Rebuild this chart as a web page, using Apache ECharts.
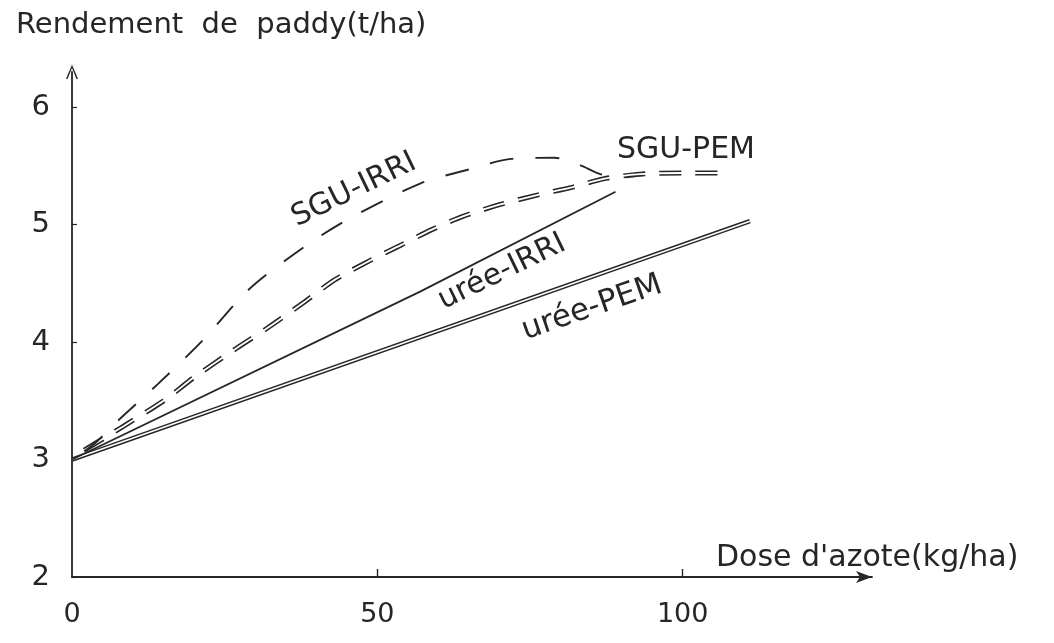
<!DOCTYPE html>
<html><head><meta charset="utf-8">
<script src="https://cdn.jsdelivr.net/npm/echarts@6/dist/echarts.min.js"></script>
<style>html,body{margin:0;padding:0;background:#fff}#c{width:1054px;height:643px}</style>
</head><body><div id="c"></div>
<script>
// ---- data ----
const ureePEM_x = [0, 111];
const ureePEM_y = [3.0, 5.03];
const ureeIRRI_x = [0, 57, 89];
const ureeIRRI_y = [3.0, 4.43, 5.28];
const sguPEM_x = [2, 8, 15, 20, 27, 32, 38, 43, 49, 54, 59, 64, 70, 76, 82, 87, 93, 100, 106];
const sguPEM_y = [3.08, 3.27, 3.5, 3.7, 3.95, 4.12, 4.34, 4.53, 4.7, 4.83, 4.96, 5.07, 5.17, 5.25, 5.32, 5.39, 5.43, 5.44, 5.44];
const sguIRRI_x = [2, 4, 7.5, 14, 21.5, 29, 38, 45, 57, 65, 72, 79, 83, 86.5, 89];
const sguIRRI_y = [3.07, 3.15, 3.33, 3.64, 4.02, 4.45, 4.81, 5.04, 5.35, 5.47, 5.56, 5.57, 5.51, 5.43, 5.41];
const xTicks = [0, 50, 100];
const yTicks = [2, 3, 4, 5, 6];
const seriesNames = ['SGU-IRRI', 'SGU-PEM', 'urée-IRRI', 'urée-PEM'];
const yTitle = 'Rendement  de  paddy(t/ha)';
const xTitle = "Dose d'azote(kg/ha)";

const zip = (xs, ys) => xs.map((x, i) => [x, ys[i]]);
const INK = '#262626';
const FONT = '"DejaVu Sans", sans-serif';

const chart = echarts.init(document.getElementById('c'), null, {renderer: 'canvas'});
const chevron = 'path://M0,14 L6,0 L12,14 L10.6,14.6 L6,3.2 L1.4,14.6 Z';

const option = {
  backgroundColor: '#fff',
  animation: false,
  title: {
    text: yTitle, left: 11, top: 6,
    textStyle: {fontFamily: FONT, fontSize: 29, fontWeight: 'normal', color: INK}
  },
  grid: {left: 72, right: 182, top: 72, bottom: 66, containLabel: false},
  xAxis: {
    type: 'value', min: 0, max: 131, interval: 50,
    axisLine: {show: true, lineStyle: {color: INK, width: 1.8}, symbol: ['none', 'arrow'], symbolSize: [9, 16]},
    axisTick: {show: true, inside: true, length: 8, customValues: [50, 100], lineStyle: {color: INK, width: 1.4}},
    axisLabel: {customValues: xTicks, margin: 24, fontFamily: FONT, fontSize: 27, color: INK},
    splitLine: {show: false}
  },
  yAxis: {
    type: 'value', min: 2, max: 6.3, interval: 1,
    axisLine: {show: true, lineStyle: {color: INK, width: 1.8}, symbol: ['none', chevron], symbolSize: [12, 16]},
    axisTick: {show: true, inside: true, length: 5, customValues: yTicks, lineStyle: {color: INK, width: 1.2}},
    axisLabel: {customValues: yTicks, margin: 22, fontFamily: FONT, fontSize: 29, color: INK},
    splitLine: {show: false}
  },
  series: [
    // SGU-PEM: double dashed line (black dashed + white core)
    {name: seriesNames[1], type: 'line', data: zip(sguPEM_x, sguPEM_y), smooth: 0.25, symbol: 'none',
     lineStyle: {color: INK, width: 5, type: [22, 14], cap: 'butt'}, z: 2},
    {name: seriesNames[1] + ' core', type: 'line', data: zip(sguPEM_x, sguPEM_y), smooth: 0.25, symbol: 'none',
     lineStyle: {color: '#fff', width: 1.8}, z: 3},
    // urée-PEM: double solid line
    {name: seriesNames[3], type: 'line', data: zip(ureePEM_x, ureePEM_y), symbol: 'none',
     lineStyle: {color: INK, width: 4.6}, z: 4},
    {name: seriesNames[3] + ' core', type: 'line', data: zip(ureePEM_x, ureePEM_y), symbol: 'none',
     lineStyle: {color: '#fff', width: 1.6}, z: 5},
    // urée-IRRI: solid
    {name: seriesNames[2], type: 'line', data: zip(ureeIRRI_x, ureeIRRI_y), symbol: 'none',
     lineStyle: {color: INK, width: 1.8}, z: 6},
    // SGU-IRRI: long dashes
    {name: seriesNames[0], type: 'line', data: zip(sguIRRI_x, sguIRRI_y), smooth: 0.3, symbol: 'none',
     lineStyle: {color: INK, width: 1.9, type: [24, 22], cap: 'butt'}, z: 7}
  ],
  graphic: [
    {type: 'text', x: 354, y: 190, rotation: 26 * Math.PI / 180,
     style: {text: seriesNames[0], font: '30px ' + FONT, fill: INK, align: 'center', verticalAlign: 'middle'}},
    {type: 'text', x: 686, y: 150, rotation: 0,
     style: {text: seriesNames[1], font: '30px ' + FONT, fill: INK, align: 'center', verticalAlign: 'middle'}},
    {type: 'text', x: 502, y: 272, rotation: 26 * Math.PI / 180,
     style: {text: seriesNames[2], font: '30px ' + FONT, fill: INK, align: 'center', verticalAlign: 'middle'}},
    {type: 'text', x: 592, y: 308, rotation: 19 * Math.PI / 180,
     style: {text: seriesNames[3], font: '31px ' + FONT, fill: INK, align: 'center', verticalAlign: 'middle'}},
    {type: 'text', left: 716, top: 543,
     style: {text: xTitle, font: '30px ' + FONT, fill: INK}}
  ]
};
chart.setOption(option);
</script></body></html>
